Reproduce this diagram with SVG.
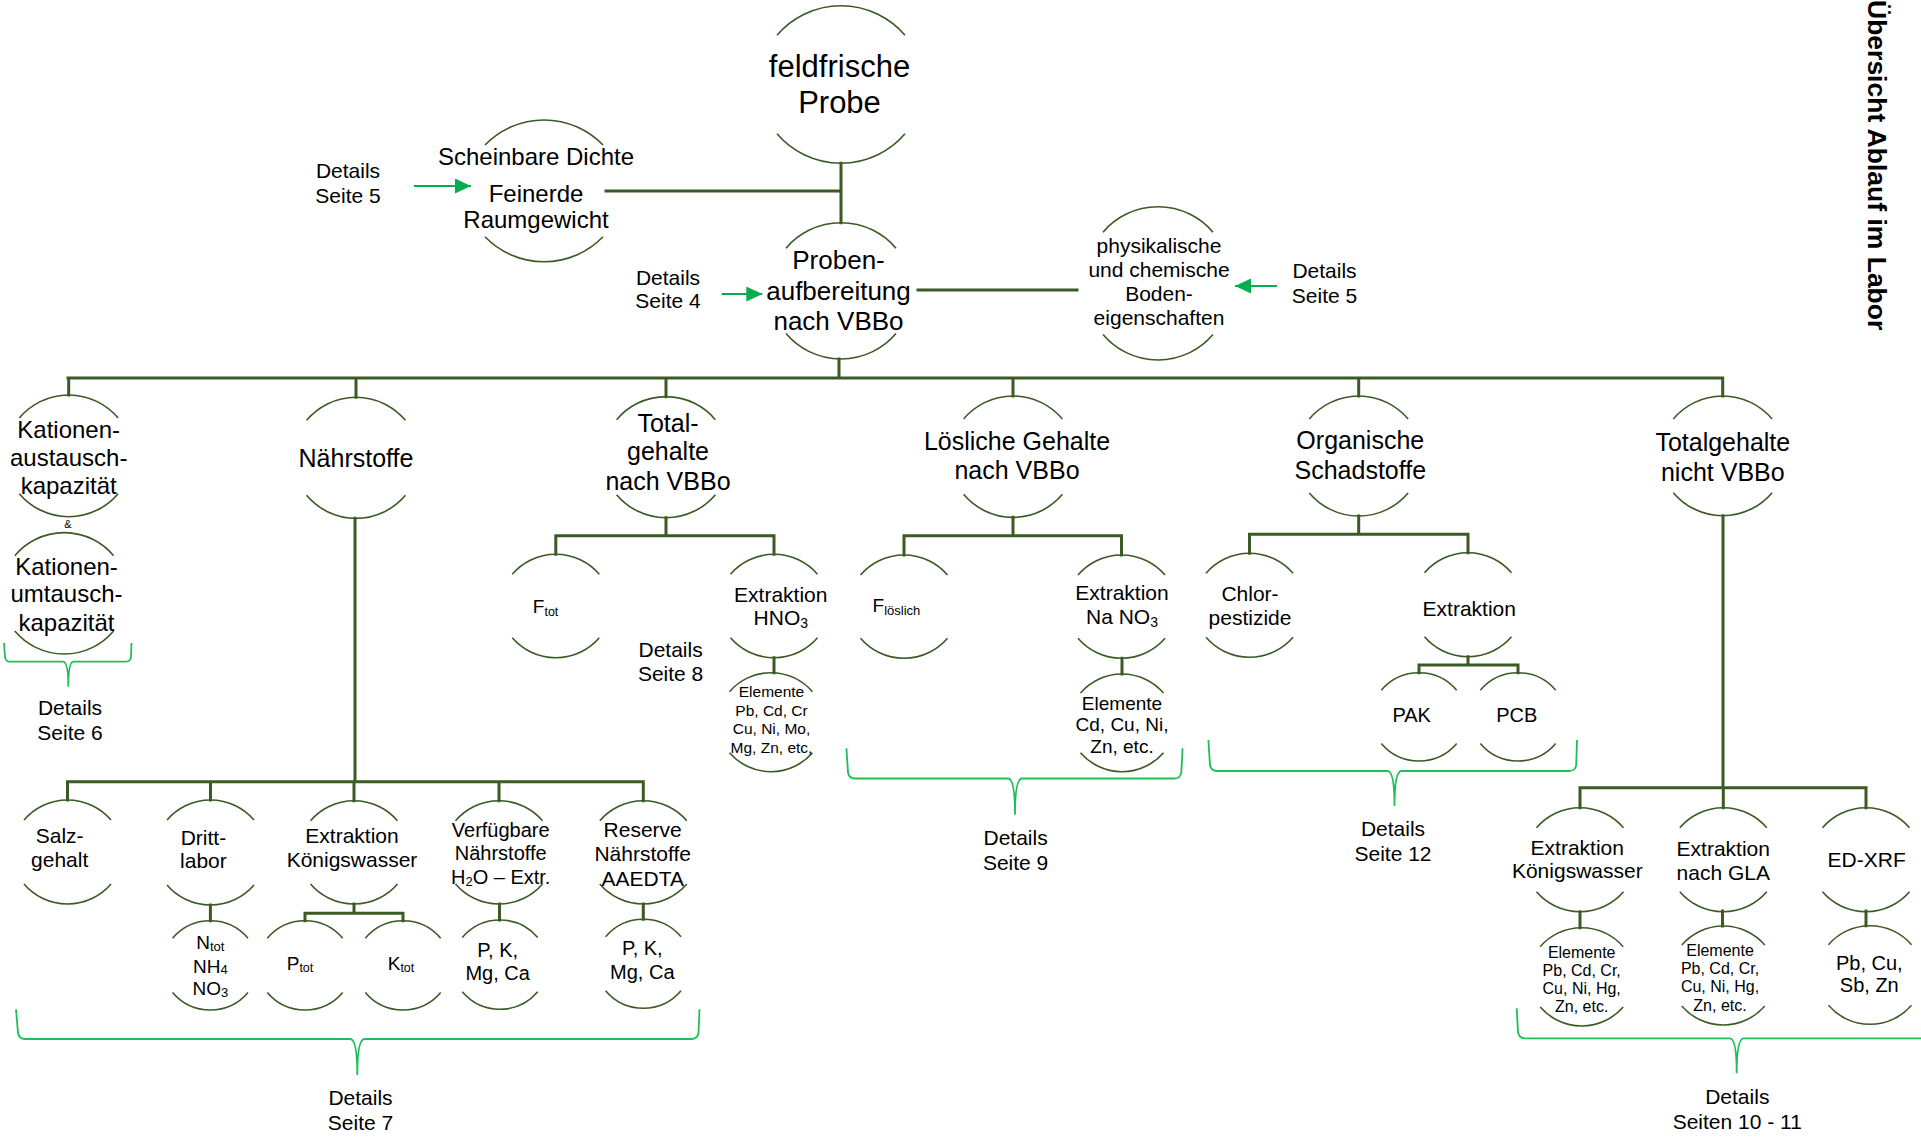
<svg xmlns="http://www.w3.org/2000/svg" width="1921" height="1144" viewBox="0 0 1921 1144">
<defs>
<style>
.arc{fill:none;stroke:#3b5a24;stroke-width:1.6}
.con{fill:none;stroke:#3b5a24;stroke-width:3;stroke-linecap:square}
.br{fill:none;stroke:#1fbf57;stroke-width:1.8}
.arr{fill:none;stroke:#00b050;stroke-width:2}
text{font-family:"Liberation Sans",Arial,sans-serif;fill:#000;text-anchor:middle}
.s31{font-size:31px}.s26{font-size:26px}.s25{font-size:25px}.s24{font-size:24px}
.s21{font-size:21px}.s20{font-size:20px}.s19{font-size:19px}.s16{font-size:16px}
.s15{font-size:15.5px}.s11{font-size:11px}
.st{text-anchor:start}
.title{font-size:26.5px;font-weight:bold;text-anchor:start}
</style>
<marker id="ah" markerUnits="userSpaceOnUse" markerWidth="16" markerHeight="15" refX="16" refY="7.5" orient="auto"><path d="M0,0 L16,7.5 L0,15 z" fill="#00b050"/></marker>
</defs>
<rect width="1921" height="1144" fill="#fff"/>

<g id="connectors">
<path class="con" d="M841,163.3 V222.7 M606,191 H841 M918,290 H1077 M839,359 V378 M68,378 H1722.5
M68.7,378 V395 M356,378 V397.3 M666,378 V396.7 M1013,378 V396 M1358.7,378 V396 M1722.7,378 V396
M666,517.7 V535.7 M555.8,535.7 H774 M555.8,535.7 V554.3 M774,535.7 V554.3 M774,657.7 V672.7
M1013,517.3 V535.7 M904,535.7 H1121.5 M904,535.7 V555 M1121.5,535.7 V555 M1122,658.3 V674
M1358.7,516 V534.3 M1249.5,534.3 H1468 M1249.5,534.3 V553.3 M1468,534.3 V552.7
M1468,656.7 V665 M1419,665 H1518 M1419,665 V672.7 M1518,665 V672.7
M355,518.3 V781.7 M67.5,781.7 H643.3 M67.5,781.7 V800 M210.5,781.7 V800 M354,781.7 V800.7 M499,781.7 V800.7 M643.3,781.7 V800.7
M210.4,905 V920.7 M354,904 V913.3 M305,913.3 H403 M305,913.3 V920.7 M403,913.3 V920.7 M499.5,904 V920 M643.3,904 V919.3
M1723,515.7 V787.7 M1580,787.7 H1866 M1580,787.7 V807.7 M1723.3,787.7 V807.7 M1866,787.7 V807.7
M1580,911.7 V927.7 M1722.5,911 V926 M1866,911 V925.7"/>
<line class="arr" x1="414" y1="186" x2="471" y2="186" marker-end="url(#ah)"/>
<line class="arr" x1="721.7" y1="294" x2="762.3" y2="294" marker-end="url(#ah)"/>
<line class="arr" x1="1277" y1="286" x2="1235" y2="286" marker-end="url(#ah)"/>
<path class="br" d="M4,643 L5,657 Q5.5,661.7 10,661.7 L63,661.7 Q68.3,661.7 68.3,686.7 Q68.3,661.7 73.6,661.7 L125,661.7 Q130.5,661.7 131,657 L131.5,643"/>
<path class="br" d="M16,1009.3 L18,1033 Q19,1039 25,1039 L350,1039 Q357.3,1039 357.3,1075 Q357.3,1039 364.6,1039 L691,1039 Q697.5,1039 698.5,1033 L699.5,1009.3"/>
<path class="br" d="M846.4,748.3 L848,772.5 Q849,778.5 855,778.5 L1008,778.5 Q1015,778.5 1015,814.7 Q1015,778.5 1022,778.5 L1174,778.5 Q1180.5,778.5 1181.3,772.5 L1182.6,748.3"/>
<path class="br" d="M1208.4,740 L1210,765 Q1211,771 1217,771 L1387.5,771 Q1394.5,771 1394.5,806 Q1394.5,771 1401.5,771 L1569,771 Q1575.5,771 1576.2,765 L1577,740"/>
<path class="br" d="M1516.7,1008.3 L1518,1032 Q1519,1038.3 1525,1038.3 L1729.7,1038.3 Q1736.7,1038.3 1736.7,1073.3 Q1736.7,1038.3 1743.7,1038.3 L1925,1038.3"/>
</g>

<g id="n-feldfrische"><path class="arc" d="M777,35.2 A84.2,84.2 0 0 1 905,35.2 M777,133.8 A84.2,84.2 0 0 0 905,133.8"/>
<text class="s31"><tspan x="839.5" y="76.7">feldfrische</tspan><tspan x="839.5" y="113.3">Probe</tspan></text></g>

<g id="n-scheinbare"><path class="arc" d="M485,145 A82.1,82.1 0 0 1 603,145 M485,236.7 A82.1,82.1 0 0 0 603,236.7"/>
<text class="s24"><tspan x="536" y="165">Scheinbare Dichte</tspan><tspan x="536" y="201.7">Feinerde</tspan><tspan x="536" y="228.3">Raumgewicht</tspan></text></g>

<g id="n-proben"><path class="arc" d="M786,248.2 A72.1,72.1 0 0 1 896,248.2 M786,333.5 A72.1,72.1 0 0 0 896,333.5"/>
<text class="s26"><tspan x="838.5" y="269.3">Proben-</tspan><tspan x="838.5" y="299.8">aufbereitung</tspan><tspan x="838.5" y="330.3">nach VBBo</tspan></text></g>

<g id="n-physchem"><path class="arc" d="M1103,232.2 A72.1,72.1 0 0 1 1213,232.2 M1103,334.5 A72.1,72.1 0 0 0 1213,334.5"/>
<text class="s21"><tspan x="1159" y="252.5">physikalische</tspan><tspan x="1159" y="276.5">und chemische</tspan><tspan x="1159" y="300.5">Boden-</tspan><tspan x="1159" y="324.5">eigenschaften</tspan></text></g>

<g id="n-kak"><path class="arc" d="M19.3,418 A64.5,64.5 0 0 1 118.1,418 M19.3,493.7 A64.5,64.5 0 0 0 118.1,493.7"/>
<text class="s24"><tspan x="68.7" y="438.3">Kationen-</tspan><tspan x="68.7" y="466">austausch-</tspan><tspan x="68.7" y="493.5">kapazität</tspan></text>
<text class="s11" x="68" y="528.3">&amp;</text></g>

<g id="n-kuk"><path class="arc" d="M14.8,555.7 A64.5,64.5 0 0 1 113.6,555.7 M14.8,631 A64.5,64.5 0 0 0 113.6,631"/>
<text class="s24"><tspan x="66.5" y="575">Kationen-</tspan><tspan x="66.5" y="602">umtausch-</tspan><tspan x="66.5" y="630.5">kapazität</tspan></text></g>

<g id="n-naehrstoffe"><path class="arc" d="M306.6,420.3 A64.5,64.5 0 0 1 405.4,420.3 M306.6,495.3 A64.5,64.5 0 0 0 405.4,495.3"/>
<text class="s25" x="356" y="466.7">Nährstoffe</text></g>

<g id="n-total"><path class="arc" d="M616.6,419.7 A64.5,64.5 0 0 1 715.4,419.7 M616.6,494.7 A64.5,64.5 0 0 0 715.4,494.7"/>
<text class="s25"><tspan x="668" y="431.7">Total-</tspan><tspan x="668" y="460">gehalte</tspan><tspan x="668" y="490">nach VBBo</tspan></text></g>

<g id="n-loeslich"><path class="arc" d="M963.6,419 A64.5,64.5 0 0 1 1062.4,419 M963.6,494.3 A64.5,64.5 0 0 0 1062.4,494.3"/>
<text class="s25"><tspan x="1017" y="450">Lösliche Gehalte</tspan><tspan x="1017" y="479.3">nach VBBo</tspan></text></g>

<g id="n-organisch"><path class="arc" d="M1309.3,419 A64.5,64.5 0 0 1 1408.1,419 M1309.3,493 A64.5,64.5 0 0 0 1408.1,493"/>
<text class="s25"><tspan x="1360.3" y="449.3">Organische</tspan><tspan x="1360.3" y="479.3">Schadstoffe</tspan></text></g>

<g id="n-totalnicht"><path class="arc" d="M1673.3,419 A64.5,64.5 0 0 1 1772.1,419 M1673.3,492.7 A64.5,64.5 0 0 0 1772.1,492.7"/>
<text class="s25"><tspan x="1722.8" y="450.7">Totalgehalte</tspan><tspan x="1722.8" y="480.5">nicht VBBo</tspan></text></g>

<g id="n-ftot"><path class="arc" d="M512.3,574.3 A57.3,57.3 0 0 1 599.3,574.3 M512.3,637.7 A57.3,57.3 0 0 0 599.3,637.7"/>
<text class="s19 st" x="532.8" y="613.3">F<tspan font-size="12.5" dy="2.7">tot</tspan></text></g>

<g id="n-hno3"><path class="arc" d="M730.5,574.3 A57.3,57.3 0 0 1 817.5,574.3 M730.5,637.7 A57.3,57.3 0 0 0 817.5,637.7"/>
<text class="s21"><tspan x="780.8" y="601.7">Extraktion</tspan><tspan x="780.8" y="625">HNO<tspan font-size="14" dy="2.5">3</tspan></tspan></text></g>

<g id="n-elem-hno3"><path class="arc" d="M729.5,691.7 A54.8,54.8 0 0 1 812.5,691.7 M729.5,752.7 A54.8,54.8 0 0 0 812.5,752.7"/>
<text class="s15"><tspan x="771.5" y="697.3">Elemente</tspan><tspan x="771.5" y="716">Pb, Cd, Cr</tspan><tspan x="771.5" y="734.3">Cu, Ni, Mo,</tspan><tspan x="771.5" y="752.7">Mg, Zn, etc,</tspan></text></g>

<g id="n-floeslich"><path class="arc" d="M860.5,575 A57.3,57.3 0 0 1 947.5,575 M860.5,638.3 A57.3,57.3 0 0 0 947.5,638.3"/>
<text class="s19 st" x="872.6" y="611.7">F<tspan font-size="13" dy="3.3">löslich</tspan></text></g>

<g id="n-nano3"><path class="arc" d="M1078,575 A57.3,57.3 0 0 1 1165,575 M1078,638.3 A57.3,57.3 0 0 0 1165,638.3"/>
<text class="s21"><tspan x="1122" y="600">Extraktion</tspan><tspan x="1122" y="624">Na NO<tspan font-size="14" dy="2.5">3</tspan></tspan></text></g>

<g id="n-elem-nano3"><path class="arc" d="M1080.5,693 A54.8,54.8 0 0 1 1163.5,693 M1080.5,752.7 A54.8,54.8 0 0 0 1163.5,752.7"/>
<text class="s19"><tspan x="1122" y="709.5">Elemente</tspan><tspan x="1122" y="731">Cd, Cu, Ni,</tspan><tspan x="1122" y="752.5">Zn, etc.</tspan></text></g>

<g id="n-chlor"><path class="arc" d="M1206,573.3 A57.3,57.3 0 0 1 1293,573.3 M1206,637.3 A57.3,57.3 0 0 0 1293,637.3"/>
<text class="s21"><tspan x="1250" y="600.7">Chlor-</tspan><tspan x="1250" y="625">pestizide</tspan></text></g>

<g id="n-extraktion-org"><path class="arc" d="M1424.5,572.7 A57.3,57.3 0 0 1 1511.5,572.7 M1424.5,636.7 A57.3,57.3 0 0 0 1511.5,636.7"/>
<text class="s21" x="1469.3" y="615.7">Extraktion</text></g>

<g id="n-pak"><path class="arc" d="M1381.3,690.2 A49.4,49.4 0 0 1 1456.7,690.2 M1381.3,743.5 A49.4,49.4 0 0 0 1456.7,743.5"/>
<text class="s20" x="1411.7" y="721.7">PAK</text></g>

<g id="n-pcb"><path class="arc" d="M1480.3,690.2 A49.4,49.4 0 0 1 1555.7,690.2 M1480.3,743.5 A49.4,49.4 0 0 0 1555.7,743.5"/>
<text class="s20" x="1516.7" y="721.7">PCB</text></g>

<g id="n-salz"><path class="arc" d="M24,820 A57.3,57.3 0 0 1 111,820 M24,884 A57.3,57.3 0 0 0 111,884"/>
<text class="s21"><tspan x="59.7" y="843.3">Salz-</tspan><tspan x="59.7" y="867.3">gehalt</tspan></text></g>

<g id="n-dritt"><path class="arc" d="M167,820 A57.3,57.3 0 0 1 254,820 M167,885 A57.3,57.3 0 0 0 254,885"/>
<text class="s21"><tspan x="203.4" y="845">Dritt-</tspan><tspan x="203.4" y="868.3">labor</tspan></text></g>

<g id="n-ntot"><path class="arc" d="M172.6,938.2 A49.4,49.4 0 0 1 248,938.2 M172.6,992.5 A49.4,49.4 0 0 0 248,992.5"/>
<text class="s19"><tspan x="210.3" y="949.3">N<tspan font-size="13" dy="1.5">tot</tspan></tspan><tspan x="210.3" y="972.7">NH<tspan font-size="13" dy="1.5">4</tspan></tspan><tspan x="210.3" y="995">NO<tspan font-size="13" dy="1.5">3</tspan></tspan></text></g>

<g id="n-kw-links"><path class="arc" d="M310.5,820.7 A57.3,57.3 0 0 1 397.5,820.7 M310.5,884 A57.3,57.3 0 0 0 397.5,884"/>
<text class="s21"><tspan x="352" y="843.3">Extraktion</tspan><tspan x="352" y="867.3">Königswasser</tspan></text></g>

<g id="n-ptot"><path class="arc" d="M267.3,938.2 A49.4,49.4 0 0 1 342.7,938.2 M267.3,992.5 A49.4,49.4 0 0 0 342.7,992.5"/>
<text class="s19 st" x="286.7" y="970">P<tspan font-size="12.5" dy="2">tot</tspan></text></g>

<g id="n-ktot"><path class="arc" d="M365.3,938.2 A49.4,49.4 0 0 1 440.7,938.2 M365.3,992.5 A49.4,49.4 0 0 0 440.7,992.5"/>
<text class="s19 st" x="387.7" y="970">K<tspan font-size="12.5" dy="2">tot</tspan></text></g>

<g id="n-verfuegbar"><path class="arc" d="M455.5,820.7 A57.3,57.3 0 0 1 542.5,820.7 M455.5,884 A57.3,57.3 0 0 0 542.5,884"/>
<text class="s20"><tspan x="500.7" y="836.7">Verfügbare</tspan><tspan x="500.7" y="860">Nährstoffe</tspan><tspan x="500.7" y="884">H<tspan font-size="13" dy="1.5">2</tspan><tspan dy="-1.5">O – Extr.</tspan></tspan></text></g>

<g id="n-pk-verf"><path class="arc" d="M462.3,937.5 A49.4,49.4 0 0 1 537.7,937.5 M462.3,991.8 A49.4,49.4 0 0 0 537.7,991.8"/>
<text class="s20"><tspan x="497.7" y="956.7">P, K,</tspan><tspan x="497.7" y="980">Mg, Ca</tspan></text></g>

<g id="n-reserve"><path class="arc" d="M599.8,820.7 A57.3,57.3 0 0 1 686.8,820.7 M599.8,884 A57.3,57.3 0 0 0 686.8,884"/>
<text class="s21"><tspan x="642.7" y="837.3">Reserve</tspan><tspan x="642.7" y="861">Nährstoffe</tspan><tspan x="642.7" y="886">AAEDTA</tspan></text></g>

<g id="n-pk-res"><path class="arc" d="M605.6,936.8 A49.4,49.4 0 0 1 681,936.8 M605.6,990.8 A49.4,49.4 0 0 0 681,990.8"/>
<text class="s20"><tspan x="642.3" y="955">P, K,</tspan><tspan x="642.3" y="979">Mg, Ca</tspan></text></g>

<g id="n-kw-rechts"><path class="arc" d="M1536.5,827.7 A57.3,57.3 0 0 1 1623.5,827.7 M1536.5,891.7 A57.3,57.3 0 0 0 1623.5,891.7"/>
<text class="s21"><tspan x="1577.3" y="855">Extraktion</tspan><tspan x="1577.3" y="878.3">Königswasser</tspan></text></g>

<g id="n-elem-kw"><path class="arc" d="M1540.2,946.7 A54.8,54.8 0 0 1 1623.2,946.7 M1540.2,1007 A54.8,54.8 0 0 0 1623.2,1007"/>
<text class="s16"><tspan x="1581.7" y="957.7">Elemente</tspan><tspan x="1581.7" y="975.7">Pb, Cd, Cr,</tspan><tspan x="1581.7" y="994.3">Cu, Ni, Hg,</tspan><tspan x="1581.7" y="1012.3">Zn, etc.</tspan></text></g>

<g id="n-gla"><path class="arc" d="M1679.8,827.7 A57.3,57.3 0 0 1 1766.8,827.7 M1679.8,891.7 A57.3,57.3 0 0 0 1766.8,891.7"/>
<text class="s21"><tspan x="1723.3" y="856">Extraktion</tspan><tspan x="1723.3" y="880">nach GLA</tspan></text></g>

<g id="n-elem-gla"><path class="arc" d="M1681.8,945 A54.8,54.8 0 0 1 1764.8,945 M1681.8,1006 A54.8,54.8 0 0 0 1764.8,1006"/>
<text class="s16"><tspan x="1720" y="956">Elemente</tspan><tspan x="1720" y="974">Pb, Cd, Cr,</tspan><tspan x="1720" y="992.3">Cu, Ni, Hg,</tspan><tspan x="1720" y="1010.7">Zn, etc.</tspan></text></g>

<g id="n-edxrf"><path class="arc" d="M1822.5,827.7 A57.3,57.3 0 0 1 1909.5,827.7 M1822.5,891.7 A57.3,57.3 0 0 0 1909.5,891.7"/>
<text class="s21" x="1866.7" y="866.7">ED-XRF</text></g>

<g id="n-pbcu"><path class="arc" d="M1828.5,944.7 A54.8,54.8 0 0 1 1911.5,944.7 M1828.5,1005.3 A54.8,54.8 0 0 0 1911.5,1005.3"/>
<text class="s20"><tspan x="1869.3" y="970">Pb, Cu,</tspan><tspan x="1869.3" y="992.3">Sb, Zn</tspan></text></g>

<g id="labels">
<text class="s21"><tspan x="348" y="178.3">Details</tspan><tspan x="348" y="203.3">Seite 5</tspan></text>
<text class="s21"><tspan x="668" y="285">Details</tspan><tspan x="668" y="308.3">Seite 4</tspan></text>
<text class="s21"><tspan x="1324.5" y="278.3">Details</tspan><tspan x="1324.5" y="303.3">Seite 5</tspan></text>
<text class="s21"><tspan x="70" y="715">Details</tspan><tspan x="70" y="740">Seite 6</tspan></text>
<text class="s21"><tspan x="670.6" y="657.3">Details</tspan><tspan x="670.6" y="680.7">Seite 8</tspan></text>
<text class="s21"><tspan x="360.5" y="1105">Details</tspan><tspan x="360.5" y="1130">Seite 7</tspan></text>
<text class="s21"><tspan x="1015.6" y="845">Details</tspan><tspan x="1015.6" y="870">Seite 9</tspan></text>
<text class="s21"><tspan x="1393" y="836">Details</tspan><tspan x="1393" y="861">Seite 12</tspan></text>
<text class="s21"><tspan x="1737.3" y="1104">Details</tspan><tspan x="1737.3" y="1129.3">Seiten 10 - 11</tspan></text>
<text class="title" transform="translate(1868,0) rotate(90)" x="0" y="0">Übersicht Ablauf im Labor</text>
</g>
</svg>
